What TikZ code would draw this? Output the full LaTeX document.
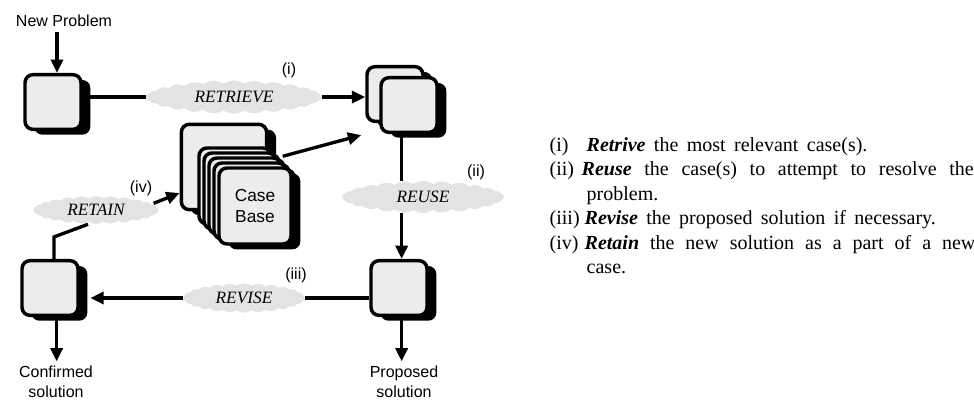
\documentclass[tikz,border=0pt]{standalone}
\usepackage{fontspec}
\setmainfont{Liberation Serif}
\newfontfamily\labelfont{Liberation Sans}
\usetikzlibrary{arrows.meta,shapes.symbols,shadows}
\newcommand\legendspace{\spaceskip=0.42em plus 0.3em\relax}

\tikzset{
  casebox/.style={draw, line width=2.6pt, rounded corners=6pt, fill=gray!15,
    inner sep=0pt, minimum width=42pt, minimum height=41pt,
    drop shadow={shadow xshift=7pt, shadow yshift=-4pt, fill=black, opacity=1}},
  card/.style={casebox, minimum width=54pt, minimum height=57pt},
  blob/.style={cloud, cloud puffs=26, cloud puff arc=70, cloud ignores aspect, fill=gray!22, draw=none,
    inner sep=0pt, font=\fontsize{13}{15}\selectfont\itshape},
  flow/.style={line width=2.5pt},
  flowarr/.style={flow, -{Triangle[length=10pt,width=9pt]}},
  lbl/.style={font=\labelfont\fontsize{12}{15}\selectfont, align=center},
  legend/.style={anchor=base west, font=\fontsize{15}{16}\selectfont\legendspace}
}

\begin{document}
\begin{tikzpicture}[x=0.75pt,y=-0.75pt]
\useasboundingbox (0,0) rectangle (974,405);

% retrieve
\node[lbl] (np) at (64,21) {New Problem};
\node[casebox] (newcase) at (53,102) {};
\draw[flowarr] ([xshift=3pt]newcase.north |- np.south) -- ([xshift=3pt]newcase.north);
\node[blob, minimum width=131pt, minimum height=25pt] (retrieve) at (234,97) {RETRIEVE};
\node[lbl] (ri) at (289,70) {(i)};
\node[casebox] (oldcase) at (395,94) {};
\node[casebox] (retcase) at (409,105) {};
\draw[flow] (newcase.east |- retrieve.west) -- (retrieve.west);
\draw[flowarr] (retrieve.east) -- (oldcase.west |- retrieve.east);

% case base
\node[card, minimum width=64pt, minimum height=64pt] (cbback) at (224,167) {};
\foreach \i in {0,...,3}{
\node[card] (cb\i) at (235+5*\i,186+5*\i) {};
}
\node[card, lbl, font=\labelfont\fontsize{13}{16}\selectfont] (cb) at (255,206) {Case\\Base};
\draw[flowarr] (cb2.north east) -- ([xshift=-3pt,yshift=-9pt]oldcase.south west);

% reuse
\node[blob, minimum width=121pt, minimum height=24pt] (reuse) at (423,197) {REUSE};
\node[lbl] (rii) at (476,172) {(ii)};
\node[casebox] (propcase) at (399,288) {};
\draw[flow] ([xshift=2pt]propcase.north |- retcase.south) -- ([xshift=2pt]propcase.north |- reuse.north);
\draw[flowarr] ([xshift=2pt]propcase.north |- reuse.south) -- ([xshift=2pt]propcase.north);
\node[lbl] (propsol) at (404,382) {Proposed\\solution};
\draw[flowarr] ([xshift=2pt]propcase.south) -- ([xshift=2pt]propcase.south |- propsol.north);

% revise
\node[blob, minimum width=91pt, minimum height=22pt] (revise) at (244,298) {REVISE};
\node[lbl] (riii) at (296,275) {(iii)};
\node[casebox] (confcase) at (50,288) {};
\draw[flow] (propcase.west |- revise.east) -- (revise.east);
\draw[flowarr] (revise.west) -- ([xshift=8pt]confcase.east |- revise.west);
\node[lbl] (confsol) at (56,382) {Confirmed\\solution};
\draw[flowarr] ([xshift=5pt]confcase.south) -- ([xshift=5pt]confcase.south |- confsol.north);

% retain
\node[blob, minimum width=94pt, minimum height=21pt] (retain) at (96,210) {RETAIN};
\node[lbl] (riv) at (141,188) {(iv)};
\draw[flow] ([xshift=3pt]confcase.north) -- ++(0,-22) -- ([xshift=-6pt]retain.south);
\draw[flowarr] ([xshift=-4pt,yshift=5pt]retain.east) -- (cbback.west |- 0,193);

% legend
\node[legend] (n1) at (545,151) {(i)};
\node[legend] (t1) at (582,151) {\textbf{\textit{Retrive}} the most relevant case(s).};
\node[legend] (n2) at (545,175.5) {(ii)};
\node[legend] (t2) at (577,175.5) {\makebox[294pt][s]{\textbf{\textit{Reuse}} the case(s) to attempt to resolve the}};
\node[legend] (t2b) at (582,200) {problem.};
\node[legend] (n3) at (545,224.5) {(iii)};
\node[legend] (t3) at (580,224.5) {\textbf{\textit{Revise}} the proposed solution if necessary.};
\node[legend] (n4) at (545,249) {(iv)};
\node[legend] (t4) at (580,249) {\makebox[293pt][s]{\textbf{\textit{Retain}} the new solution as a part of a new}};
\node[legend] (t4b) at (582,273.5) {case.};
\end{tikzpicture}
\end{document}
